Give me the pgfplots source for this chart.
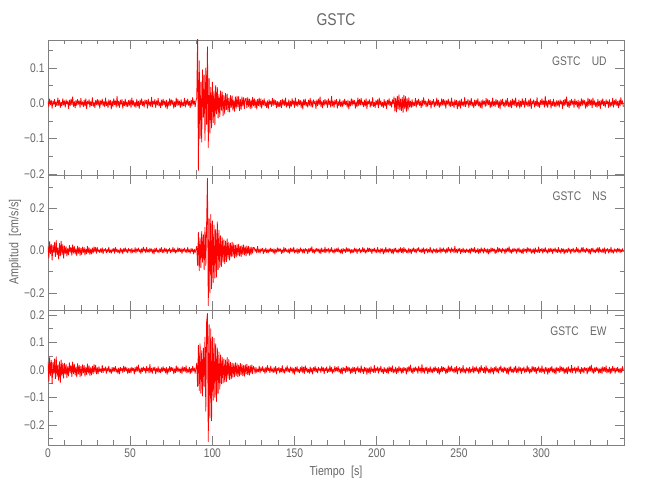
\documentclass[border=0pt]{standalone}
\usepackage{fontspec}
\setmainfont{Liberation Sans}[FakeStretch=0.82]
\usepackage{pgfplots}
\pgfplotsset{compat=1.18}
\pgfplotsset{
  seis/.style={
    scale only axis, width=576pt, height=135pt,
    anchor=south west,
    xmin=0, xmax=350.4,
    axis line style={black!50, line width=0.6pt},
    every tick/.style={black!50, line width=0.6pt},
    major tick length=9pt, minor tick length=4.5pt,
    tick align=inside,
    xtick={0,50,...,300},
    minor xtick={10,20,30,40,60,70,80,90,110,120,130,140,160,170,180,190,210,220,230,240,260,270,280,290,310,320,330,340},
    xtick pos=both, ytick pos=both,
    yticklabel pos=left,
    ticklabel style={text=black!60, font=\fontsize{12.5}{14}\selectfont},
    clip=true,
  },
  trace/.style={red, line width=0.8pt, mark=none, line join=round},
}
\begin{document}
\begin{tikzpicture}
\path[use as bounding box] (0,0) rectangle (650pt,500pt);
% ---------- UD ----------
\begin{axis}[seis, at={(48pt,325pt)},
  ymin=-203, ymax=179,
  ytick={-200,-100,0,100}, yticklabels={−0.2,−0.1,0.0,0.1},
  minor ytick={-150,-50,50,150},
  xticklabels={}]
\addplot[trace] table[header=false, row sep=\\, x expr=\coordindex*0.5, y index=0] {
5\\-9\\12\\-4\\8\\-14\\6\\-3\\11\\-10\\4\\-7\\15\\-6\\9\\-12\\3\\-8\\13\\-5\\
7\\-11\\10\\-2\\6\\-15\\9\\-7\\12\\-4\\18\\-9\\5\\-13\\8\\-6\\11\\-3\\7\\-12\\
14\\-5\\4\\-10\\9\\-8\\13\\-15\\6\\-2\\10\\-11\\5\\-7\\16\\-9\\3\\-12\\8\\-4\\
11\\-6\\9\\-14\\7\\-3\\12\\-8\\5\\-10\\15\\-7\\4\\-13\\10\\-5\\8\\-16\\6\\-9\\
13\\-4\\7\\-11\\20\\-8\\6\\-12\\9\\-3\\11\\-14\\5\\-7\\12\\-9\\4\\-10\\8\\-6\\
10\\-13\\15\\-5\\7\\-9\\3\\-12\\11\\-8\\6\\-15\\9\\-4\\13\\-7\\5\\-11\\10\\-2\\
8\\-14\\12\\-6\\4\\-9\\17\\-10\\6\\-3\\11\\-12\\7\\-5\\14\\-8\\3\\-13\\9\\-7\\
12\\-4\\6\\-11\\9\\-16\\5\\-8\\13\\-6\\10\\-3\\8\\-14\\4\\-10\\15\\-7\\11\\-5\\
6\\-12\\10\\-9\\3\\-7\\14\\-11\\8\\-4\\12\\-6\\5\\-13\\9\\-8\\16\\-3\\7\\-10\\
7\\
15\\185\\-190\\120\\-100\\60\\-110\\95\\-40\\80\\
-105\\100\\-60\\160\\-125\\70\\-85\\45\\-70\\60\\
-55\\35\\-60\\50\\-30\\45\\-42\\25\\-38\\35\\
-20\\32\\-36\\22\\-30\\28\\-18\\26\\-24\\14\\
-25\\22\\-12\\21\\-20\\9\\-23\\18\\-14\\20\\
-10\\19\\-21\\11\\-17\\18\\-8\\16\\-15\\12\\
14\\-13\\16\\-9\\12\\-15\\10\\-14\\17\\-8\\13\\-12\\9\\-16\\11\\-7\\15\\-10\\12\\-14\\
9\\-5\\13\\-8\\4\\-12\\7\\-15\\10\\-3\\6\\-9\\14\\-6\\11\\-4\\8\\-13\\5\\-10\\
4\\-10\\8\\-13\\12\\-5\\9\\-7\\15\\-11\\3\\-8\\10\\-14\\6\\-9\\13\\-4\\7\\-12\\
15\\-7\\5\\-9\\11\\-4\\8\\-12\\6\\-16\\10\\-5\\12\\-8\\3\\-11\\9\\-6\\14\\-10\\
7\\-11\\10\\-2\\6\\-15\\9\\-7\\12\\-4\\18\\-9\\5\\-13\\8\\-6\\11\\-3\\7\\-12\\
13\\-4\\7\\-11\\20\\-8\\6\\-12\\9\\-3\\11\\-14\\5\\-7\\12\\-9\\4\\-10\\8\\-6\\
12\\-4\\6\\-11\\9\\-16\\5\\-8\\13\\-6\\10\\-3\\8\\-14\\4\\-10\\15\\-7\\11\\-5\\
14\\-5\\4\\-10\\9\\-8\\13\\-15\\6\\-2\\10\\-11\\5\\-7\\16\\-9\\3\\-12\\8\\-4\\
10\\-13\\15\\-5\\7\\-9\\3\\-12\\11\\-8\\6\\-15\\9\\-4\\13\\-7\\5\\-11\\10\\-2\\
18\\-22\\14\\-25\\20\\-16\\24\\-19\\12\\-21\\17\\-26\\22\\-15\\19\\-23\\13\\-20\\16\\-11\\
6\\-12\\10\\-9\\3\\-7\\14\\-11\\8\\-4\\12\\-6\\5\\-13\\9\\-8\\16\\-3\\7\\-10\\
5\\-9\\12\\-4\\8\\-14\\6\\-3\\11\\-10\\4\\-7\\15\\-6\\9\\-12\\3\\-8\\13\\-5\\
11\\-6\\9\\-14\\7\\-3\\12\\-8\\5\\-10\\15\\-7\\4\\-13\\10\\-5\\8\\-16\\6\\-9\\
8\\-14\\12\\-6\\4\\-9\\17\\-10\\6\\-3\\11\\-12\\7\\-5\\14\\-8\\3\\-13\\9\\-7\\
9\\-5\\13\\-8\\4\\-12\\7\\-15\\10\\-3\\6\\-9\\14\\-6\\11\\-4\\8\\-13\\5\\-10\\
15\\-7\\5\\-9\\11\\-4\\8\\-12\\6\\-16\\10\\-5\\12\\-8\\3\\-11\\9\\-6\\14\\-10\\
4\\-10\\8\\-13\\12\\-5\\9\\-7\\15\\-11\\3\\-8\\10\\-14\\6\\-9\\13\\-4\\7\\-12\\
14\\-5\\4\\-10\\9\\-8\\13\\-15\\6\\-2\\10\\-11\\5\\-7\\16\\-9\\3\\-12\\8\\-4\\
13\\-4\\7\\-11\\20\\-8\\6\\-12\\9\\-3\\11\\-14\\5\\-7\\12\\-9\\4\\-10\\8\\-6\\
7\\-11\\10\\-2\\6\\-15\\9\\-7\\12\\-4\\18\\-9\\5\\-13\\8\\-6\\11\\-3\\7\\-12\\
12\\-4\\6\\-11\\9\\-16\\5\\-8\\13\\-6\\10\\-3\\8\\-14\\4\\-10\\15\\-7\\11\\-5\\
10\\-13\\15\\-5\\7\\-9\\3\\-12\\11\\-8\\6\\-15\\9\\-4\\13\\-7\\5\\-11\\10\\-2\\
6\\-12\\10\\-9\\3\\-7\\14\\-11\\8\\-4\\12\\-6\\5\\-13\\9\\-8\\16\\-3\\7\\-10\\
};
\node[anchor=east, text=black!60, font=\fontsize{12.5}{14}\selectfont] at (rel axis cs:0.976,0.844) {GSTC\hspace{0.9em}UD};
\end{axis}
% ---------- NS ----------
\begin{axis}[seis, at={(48pt,190pt)},
  ymin=-280, ymax=356,
  ytick={-200,0,200}, yticklabels={−0.2,0.0,0.2},
  minor ytick={-100,100,300},
  xticklabels={}]
\addplot[trace] table[header=false, row sep=\\, x expr=\coordindex*0.5, y index=0] {
20\\-35\\42\\-15\\30\\-45\\25\\-10\\38\\-28\\47\\-20\\12\\-40\\33\\-25\\44\\-18\\28\\-36\\
22\\-14\\18\\-26\\10\\-20\\24\\-8\\16\\-22\\27\\-12\\19\\-17\\9\\-24\\21\\-13\\15\\-23\\
11\\-19\\17\\-9\\14\\-21\\8\\-15\\20\\-10\\13\\-18\\7\\-16\\12\\-11\\18\\-6\\15\\-13\\
14\\-5\\4\\-10\\9\\-8\\13\\-15\\6\\-2\\10\\-11\\5\\-7\\16\\-9\\3\\-12\\8\\-4\\
10\\-13\\15\\-5\\7\\-9\\3\\-12\\11\\-8\\6\\-15\\9\\-4\\13\\-7\\5\\-11\\10\\-2\\
6\\-12\\10\\-9\\3\\-7\\14\\-11\\8\\-4\\12\\-6\\5\\-13\\9\\-8\\16\\-3\\7\\-10\\
15\\-7\\5\\-9\\11\\-4\\8\\-12\\6\\-16\\10\\-5\\12\\-8\\3\\-11\\9\\-6\\14\\-10\\
5\\-9\\12\\-4\\8\\-14\\6\\-3\\11\\-10\\4\\-7\\15\\-6\\9\\-12\\3\\-8\\13\\-5\\
11\\-6\\9\\-14\\7\\-3\\12\\-8\\5\\-10\\15\\-7\\4\\-13\\10\\-5\\8\\-16\\6\\-9\\
5\\
20\\-70\\85\\-95\\60\\-80\\90\\-55\\75\\-90\\
110\\-70\\130\\340\\-260\\150\\-200\\170\\-180\\140\\
-150\\120\\-130\\100\\-125\\135\\-90\\95\\-80\\70\\
-75\\60\\-55\\50\\-62\\45\\-52\\55\\-40\\38\\
-45\\35\\-30\\40\\-28\\32\\-35\\25\\-30\\28\\
-22\\30\\-26\\20\\-28\\24\\-18\\27\\-21\\18\\
-25\\22\\-15\\20\\-22\\14\\-19\\17\\-12\\15\\
13\\-4\\7\\-11\\20\\-8\\6\\-12\\9\\-3\\11\\-14\\5\\-7\\12\\-9\\4\\-10\\8\\-6\\
12\\-4\\6\\-11\\9\\-16\\5\\-8\\13\\-6\\10\\-3\\8\\-14\\4\\-10\\15\\-7\\11\\-5\\
4\\-10\\8\\-13\\12\\-5\\9\\-7\\15\\-11\\3\\-8\\10\\-14\\6\\-9\\13\\-4\\7\\-12\\
7\\-11\\10\\-2\\6\\-15\\9\\-7\\12\\-4\\18\\-9\\5\\-13\\8\\-6\\11\\-3\\7\\-12\\
8\\-14\\12\\-6\\4\\-9\\17\\-10\\6\\-3\\11\\-12\\7\\-5\\14\\-8\\3\\-13\\9\\-7\\
9\\-5\\13\\-8\\4\\-12\\7\\-15\\10\\-3\\6\\-9\\14\\-6\\11\\-4\\8\\-13\\5\\-10\\
5\\-9\\12\\-4\\8\\-14\\6\\-3\\11\\-10\\4\\-7\\15\\-6\\9\\-12\\3\\-8\\13\\-5\\
11\\-6\\9\\-14\\7\\-3\\12\\-8\\5\\-10\\15\\-7\\4\\-13\\10\\-5\\8\\-16\\6\\-9\\
15\\-7\\5\\-9\\11\\-4\\8\\-12\\6\\-16\\10\\-5\\12\\-8\\3\\-11\\9\\-6\\14\\-10\\
10\\-13\\15\\-5\\7\\-9\\3\\-12\\11\\-8\\6\\-15\\9\\-4\\13\\-7\\5\\-11\\10\\-2\\
14\\-5\\4\\-10\\9\\-8\\13\\-15\\6\\-2\\10\\-11\\5\\-7\\16\\-9\\3\\-12\\8\\-4\\
6\\-12\\10\\-9\\3\\-7\\14\\-11\\8\\-4\\12\\-6\\5\\-13\\9\\-8\\16\\-3\\7\\-10\\
13\\-4\\7\\-11\\20\\-8\\6\\-12\\9\\-3\\11\\-14\\5\\-7\\12\\-9\\4\\-10\\8\\-6\\
4\\-10\\8\\-13\\12\\-5\\9\\-7\\15\\-11\\3\\-8\\10\\-14\\6\\-9\\13\\-4\\7\\-12\\
12\\-4\\6\\-11\\9\\-16\\5\\-8\\13\\-6\\10\\-3\\8\\-14\\4\\-10\\15\\-7\\11\\-5\\
7\\-11\\10\\-2\\6\\-15\\9\\-7\\12\\-4\\18\\-9\\5\\-13\\8\\-6\\11\\-3\\7\\-12\\
9\\-5\\13\\-8\\4\\-12\\7\\-15\\10\\-3\\6\\-9\\14\\-6\\11\\-4\\8\\-13\\5\\-10\\
8\\-14\\12\\-6\\4\\-9\\17\\-10\\6\\-3\\11\\-12\\7\\-5\\14\\-8\\3\\-13\\9\\-7\\
11\\-6\\9\\-14\\7\\-3\\12\\-8\\5\\-10\\15\\-7\\4\\-13\\10\\-5\\8\\-16\\6\\-9\\
5\\-9\\12\\-4\\8\\-14\\6\\-3\\11\\-10\\4\\-7\\15\\-6\\9\\-12\\3\\-8\\13\\-5\\
15\\-7\\5\\-9\\11\\-4\\8\\-12\\6\\-16\\10\\-5\\12\\-8\\3\\-11\\9\\-6\\14\\-10\\
14\\-5\\4\\-10\\9\\-8\\13\\-15\\6\\-2\\10\\-11\\5\\-7\\16\\-9\\3\\-12\\8\\-4\\
6\\-9\\11\\-4\\8\\-10\\5\\-7\\9\\-6\\
};
\node[anchor=east, text=black!60, font=\fontsize{12.5}{14}\selectfont] at (rel axis cs:0.976,0.844) {GSTC\hspace{0.9em}NS};
\end{axis}
% ---------- EW ----------
\begin{axis}[seis, at={(48pt,55pt)},
  ymin=-273, ymax=218,
  ytick={-200,-100,0,100,200}, yticklabels={−0.2,−0.1,0.0,0.1,0.2},
  minor ytick={-250,-150,-50,50,150},
  xticklabels={0,50,100,150,200,250,300}]
\addplot[trace] table[header=false, row sep=\\, x expr=\coordindex*0.5, y index=0] {
30\\-42\\45\\-20\\35\\-50\\28\\-15\\40\\-32\\48\\-25\\18\\-38\\30\\-46\\36\\-22\\25\\-30\\
24\\-16\\20\\-28\\12\\-22\\26\\-10\\18\\-24\\29\\-14\\21\\-19\\11\\-26\\23\\-15\\17\\-25\\
13\\-21\\19\\-11\\16\\-23\\10\\-17\\22\\-12\\15\\-20\\9\\-18\\14\\-13\\20\\-8\\17\\-15\\
8\\-14\\12\\-6\\4\\-9\\17\\-10\\6\\-3\\11\\-12\\7\\-5\\14\\-8\\3\\-13\\9\\-7\\
9\\-5\\13\\-8\\4\\-12\\7\\-15\\10\\-3\\6\\-9\\14\\-6\\11\\-4\\8\\-13\\5\\-10\\
7\\-11\\10\\-2\\6\\-15\\9\\-7\\12\\-4\\18\\-9\\5\\-13\\8\\-6\\11\\-3\\7\\-12\\
13\\-4\\7\\-11\\20\\-8\\6\\-12\\9\\-3\\11\\-14\\5\\-7\\12\\-9\\4\\-10\\8\\-6\\
12\\-4\\6\\-11\\9\\-16\\5\\-8\\13\\-6\\10\\-3\\8\\-14\\4\\-10\\15\\-7\\11\\-5\\
4\\-10\\8\\-13\\12\\-5\\9\\-7\\15\\-11\\3\\-8\\10\\-14\\6\\-9\\13\\-4\\7\\-12\\
6\\
25\\-60\\90\\-75\\95\\-85\\70\\-95\\80\\-60\\
120\\-150\\175\\205\\-260\\165\\-175\\150\\-185\\120\\
-110\\115\\-100\\95\\-115\\80\\-85\\65\\-70\\55\\
-50\\45\\-48\\40\\-44\\36\\-42\\45\\-30\\38\\
-35\\28\\-32\\25\\-27\\22\\-24\\26\\-20\\23\\
-25\\18\\-22\\24\\-17\\20\\-21\\16\\-23\\19\\
-15\\21\\-17\\14\\-19\\16\\-12\\18\\-14\\13\\
6\\-12\\10\\-9\\3\\-7\\14\\-11\\8\\-4\\12\\-6\\5\\-13\\9\\-8\\16\\-3\\7\\-10\\
14\\-5\\4\\-10\\9\\-8\\13\\-15\\6\\-2\\10\\-11\\5\\-7\\16\\-9\\3\\-12\\8\\-4\\
15\\-7\\5\\-9\\11\\-4\\8\\-12\\6\\-16\\10\\-5\\12\\-8\\3\\-11\\9\\-6\\14\\-10\\
10\\-13\\15\\-5\\7\\-9\\3\\-12\\11\\-8\\6\\-15\\9\\-4\\13\\-7\\5\\-11\\10\\-2\\
5\\-9\\12\\-4\\8\\-14\\6\\-3\\11\\-10\\4\\-7\\15\\-6\\9\\-12\\3\\-8\\13\\-5\\
9\\-5\\13\\-8\\4\\-12\\7\\-15\\10\\-3\\6\\-9\\14\\-6\\11\\-4\\8\\-13\\5\\-10\\
11\\-6\\9\\-14\\7\\-3\\12\\-8\\5\\-10\\15\\-7\\4\\-13\\10\\-5\\8\\-16\\6\\-9\\
8\\-14\\12\\-6\\4\\-9\\17\\-10\\6\\-3\\11\\-12\\7\\-5\\14\\-8\\3\\-13\\9\\-7\\
4\\-10\\8\\-13\\12\\-5\\9\\-7\\15\\-11\\3\\-8\\10\\-14\\6\\-9\\13\\-4\\7\\-12\\
7\\-11\\10\\-2\\6\\-15\\9\\-7\\12\\-4\\18\\-9\\5\\-13\\8\\-6\\11\\-3\\7\\-12\\
13\\-4\\7\\-11\\20\\-8\\6\\-12\\9\\-3\\11\\-14\\5\\-7\\12\\-9\\4\\-10\\8\\-6\\
12\\-4\\6\\-11\\9\\-16\\5\\-8\\13\\-6\\10\\-3\\8\\-14\\4\\-10\\15\\-7\\11\\-5\\
14\\-5\\4\\-10\\9\\-8\\13\\-15\\6\\-2\\10\\-11\\5\\-7\\16\\-9\\3\\-12\\8\\-4\\
6\\-12\\10\\-9\\3\\-7\\14\\-11\\8\\-4\\12\\-6\\5\\-13\\9\\-8\\16\\-3\\7\\-10\\
10\\-13\\15\\-5\\7\\-9\\3\\-12\\11\\-8\\6\\-15\\9\\-4\\13\\-7\\5\\-11\\10\\-2\\
15\\-7\\5\\-9\\11\\-4\\8\\-12\\6\\-16\\10\\-5\\12\\-8\\3\\-11\\9\\-6\\14\\-10\\
5\\-9\\12\\-4\\8\\-14\\6\\-3\\11\\-10\\4\\-7\\15\\-6\\9\\-12\\3\\-8\\13\\-5\\
11\\-6\\9\\-14\\7\\-3\\12\\-8\\5\\-10\\15\\-7\\4\\-13\\10\\-5\\8\\-16\\6\\-9\\
9\\-5\\13\\-8\\4\\-12\\7\\-15\\10\\-3\\6\\-9\\14\\-6\\11\\-4\\8\\-13\\5\\-10\\
8\\-14\\12\\-6\\4\\-9\\17\\-10\\6\\-3\\11\\-12\\7\\-5\\14\\-8\\3\\-13\\9\\-7\\
7\\-11\\10\\-2\\6\\-15\\9\\-7\\12\\-4\\18\\-9\\5\\-13\\8\\-6\\11\\-3\\7\\-12\\
4\\-10\\8\\-13\\12\\-5\\9\\-7\\15\\-11\\3\\-8\\10\\-14\\6\\-9\\13\\-4\\7\\-12\\
7\\-5\\10\\-8\\4\\-11\\6\\-9\\12\\-3\\
};
\node[anchor=east, text=black!60, font=\fontsize{12.5}{14}\selectfont] at (rel axis cs:0.976,0.844) {GSTC\hspace{0.9em}EW};
\end{axis}
% ---------- titles ----------
\node[text=black!60, font=\fontsize{17}{20}\selectfont] at (336pt,480pt) {GSTC};
\node[text=black!60, font=\fontsize{13}{15}\selectfont, rotate=90] at (15pt,258pt) {Amplitud\hspace{0.5em}[cm/s/s]};
\node[text=black!60, font=\fontsize{13}{15}\selectfont] at (336pt,28pt) {Tiempo\hspace{0.5em}[s]};
\end{tikzpicture}
\end{document}
